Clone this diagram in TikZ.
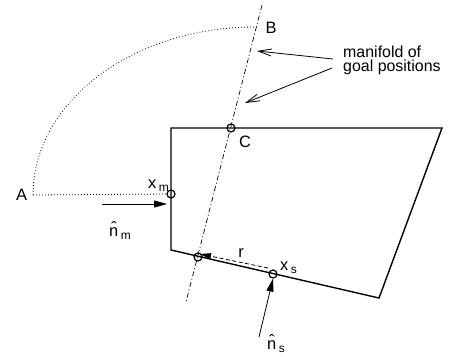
\documentclass[tikz,border=0pt]{standalone}
\usepackage{fontspec}
\setmainfont{Liberation Sans}
\usetikzlibrary{arrows.meta,calc}
\newcommand\mysub[1]{\hspace{2.5bp}\raisebox{-3bp}{\fontsize{12}{12}\selectfont #1}}
\begin{document}
\begin{tikzpicture}[x=1bp,y=-1bp,
  lbl/.style={inner sep=0pt,font=\fontsize{16.5}{16.5}\selectfont},
  mlbl/.style={inner sep=0pt,anchor=base west,font=\fontsize{16}{16}\selectfont},
  poly/.style={line width=1.4bp,line join=miter},
  hole/.style={circle,draw,line width=1.2bp,minimum size=8bp,inner sep=0pt},
  manif/.style={line width=0.7bp,dash pattern=on 5bp off 2.5bp on 1bp off 2.5bp},
  arcdot/.style={line width=0.8bp,dash pattern=on 0.8bp off 2.2bp},
  normal/.style={line width=0.8bp,-{Triangle[length=13bp,width=7bp]}},
  pointer/.style={line width=0.8bp,-{Straight Barb[length=13bp,width=7bp]}},
  racc/.style={line width=0.8bp,dash pattern=on 4bp off 2.5bp,-{Triangle[length=11bp,width=6bp]}}
]
\useasboundingbox (0,0) rectangle (449,356);
% polygon
\coordinate (TL) at (171,128);
\coordinate (TR) at (442,128);
\coordinate (BR) at (379,298);
\coordinate (BL) at (171,250);
% manifold line
\coordinate (M1) at (262,5);
\coordinate (M2) at (186,302);
\draw[manif] (M1) -- (M2);
\draw[poly] (TL) -- (TR) -- (BR) -- (BL) -- cycle;
% points
\node[hole] (C) at (231,128) {};
\node[hole] (xm) at (171,194) {};
\node[hole] (P) at (198,257) {};
\node[hole] (xs) at (273,274) {};
% A and B, dotted arc
\coordinate (Astart) at (33,195);
\draw[arcdot] (Astart) arc[start angle=180,end angle=270,x radius=222,y radius=168];
\draw[arcdot] (Astart) -- (xm.west);
\node[lbl] (A) at (21.7,195) {A};
\node[lbl] (B) at (271,28) {B};
\node[lbl] (Clab) at (245,142) {C};
% x_m and n_m
\node[lbl,anchor=base west] (xmlab) at (148,188) {x\mysub{m}};
\coordinate (nm0) at (102,204);
\coordinate (nm1) at (167,204);
\draw[normal] (nm0) -- (nm1);
\node[lbl,anchor=base west] (nmlab) at (109,236) {\^{n}\mysub{m}};
% x_s and n_s
\node[lbl,anchor=base west] (xslab) at (280,270) {x\mysub{s}};
\coordinate (ns0) at (259,337);
\draw[normal] (ns0) -- (xs.south);
\node[lbl,anchor=base west] (nslab) at (267,349) {\^{n}\mysub{s}};
% r
\draw[racc] ($(xs)+(-5,-6)$) coordinate (r0) -- ($(P)+(2,-3)$) coordinate (r1);
\node[lbl] (rlab) at (241,253) {r};
% manifold label and pointers
\node[mlbl] (ml1) at (343,57.7) {manifold of};
\node[mlbl] (ml2) at (343,71.2) {goal positions};
\coordinate (p1s) at (333,59);
\coordinate (p1e) at (257,51);
\coordinate (p2s) at (332,68);
\coordinate (p2e) at (245,103);
\draw[pointer] (p1s) -- (p1e);
\draw[pointer] (p2s) -- (p2e);
\end{tikzpicture}
\end{document}
